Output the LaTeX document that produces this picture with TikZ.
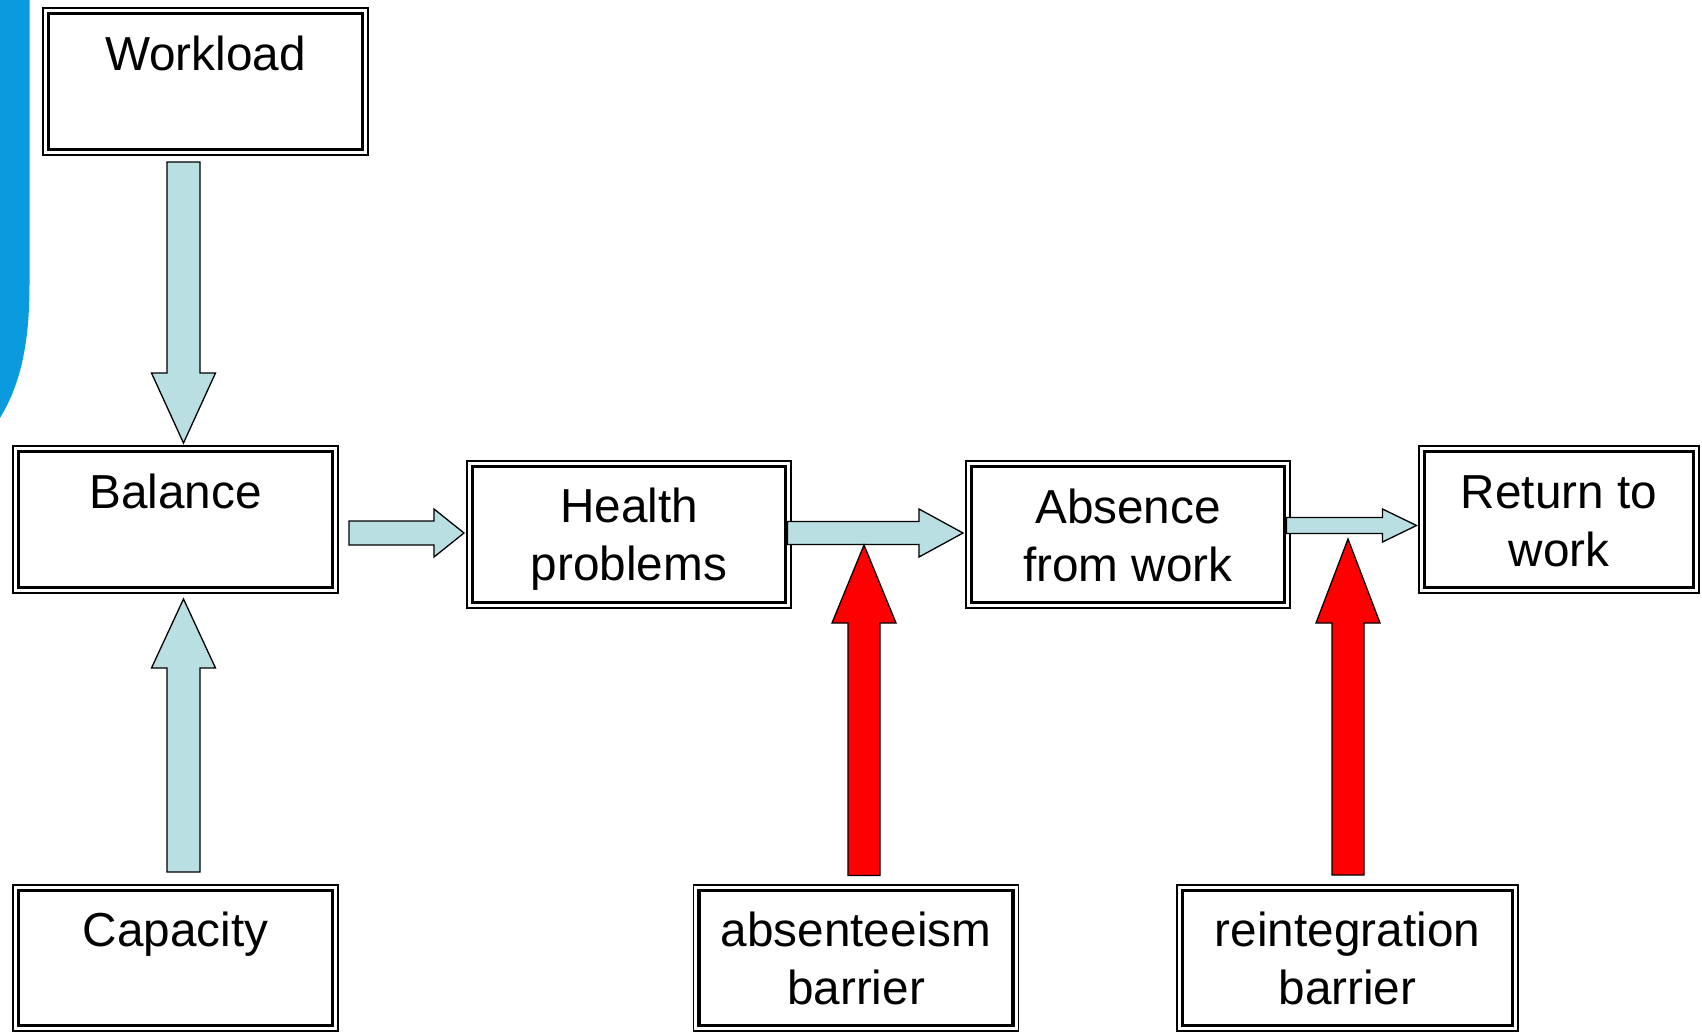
\documentclass[tikz,border=0pt]{standalone}
\usepackage{fontspec}
\setmainfont{Liberation Sans}
\usetikzlibrary{calc}
\definecolor{sidebarblue}{RGB}{9,155,222}
\definecolor{arrowblue}{RGB}{185,223,227}
\definecolor{barrierred}{RGB}{255,0,0}
\newcommand\ls{\rule[-7.5pt]{0pt}{50.5pt}}
% #1 style, #2 start, #3 tip, #4 shaft half width, #5 head half width, #6 head length
\newcommand\barrow[6]{%
  \coordinate (bC) at ($(#3)!#6!(#2)$);
  \draw[#1] ($(#2)!#4!90:(#3)$) -- ($(bC)!#4!90:(#3)$) -- ($(bC)!#5!90:(#3)$) -- (#3)
    -- ($(bC)!#5!-90:(#3)$) -- ($(bC)!#4!-90:(#3)$) -- ($(#2)!#4!-90:(#3)$) -- cycle;
}
\begin{document}
\begin{tikzpicture}[x=1pt,y=-1pt,
  box/.style={draw, line width=1.6pt, inner sep=0pt, align=center,
    font=\fontsize{47.7pt}{58pt}\selectfont,
    path picture={\draw[line width=3.2pt]
      ($(path picture bounding box.north west)+(5.5,5.5)$) rectangle
      ($(path picture bounding box.south east)+(-5.5,-5.5)$);}},
  flowarrow/.style={draw=black, fill=arrowblue, line width=1.3pt, line join=miter},
  barrierarrow/.style={draw=black, fill=barrierred, line width=1.3pt, line join=miter}]
\useasboundingbox (0,0) rectangle (1702,1033);
% sidebar
\fill[sidebarblue] (0,0) -- (29.5,0) -- (29.5,285) .. controls (29.5,345) and (20,385) .. (0,418) -- cycle;
% boxes
\node[box, minimum width=325.4pt, minimum height=147.4pt] (wl) at (205.5,81.5) {\ls Workload\\\ls};
\node[box, minimum width=325.4pt, minimum height=147.4pt] (bal) at (175.5,519.5) {\ls Balance\\\ls};
\node[box, minimum width=325.4pt, minimum height=146.4pt] (cap) at (175.5,958) {\ls Capacity\\\ls};
\node[box, minimum width=324.4pt, minimum height=147.4pt] (hp) at (629,534.5) {\ls Health\\\ls problems};
\node[box, minimum width=324.4pt, minimum height=147.4pt] (ab) at (1128,534.5) {\ls Absence\\\ls from work};
\node[box, minimum width=280.4pt, minimum height=147.4pt] (rt) at (1559,519.5) {\ls Return to\\\ls work};
\node[box, minimum width=324.9pt, minimum height=146.4pt] (abb) at (856,958) {\ls absenteeism\\\ls barrier};
\node[box, minimum width=341.4pt, minimum height=146.4pt] (rb) at (1347.5,958) {\ls reintegration\\\ls barrier};
% connector end points
\coordinate (a1t) at ($(bal.north)+(8,-2)$);
\coordinate (a1s) at ($(a1t |- wl.south)+(0,6)$);
\coordinate (a2s) at ($(cap.north)+(8,-12)$);
\coordinate (a2t) at ($(a2s |- bal.south)+(0,5)$);
\coordinate (a3t) at ($(hp.west)+(-2,-1.5)$);
\coordinate (a3s) at ($(a3t -| bal.east)+(10,0)$);
\coordinate (a4t) at ($(ab.west)+(-2,-1.5)$);
\coordinate (a4s) at ($(a4t -| hp.east)+(-4.5,0)$);
\coordinate (a5t) at ($(rt.west)+(-1.5,6)$);
\coordinate (a5s) at ($(a5t -| ab.east)+(-4.5,0)$);
\coordinate (r1s) at ($(abb.north)+(8,-8.5)$);
\coordinate (r1t) at ($(a4t -| r1s)+(0,12)$);
\coordinate (r2s) at ($(rb.north)+(0.5,-9)$);
\coordinate (r2t) at ($(a5t -| r2s)+(0,13.5)$);
% flow arrows
\barrow{flowarrow}{a1s}{a1t}{16.5pt}{32pt}{70pt}
\barrow{flowarrow}{a2s}{a2t}{16.5pt}{32pt}{69pt}
\barrow{flowarrow}{a3s}{a3t}{12pt}{24pt}{30pt}
\barrow{flowarrow}{a4s}{a4t}{11.5pt}{24pt}{44pt}
\barrow{flowarrow}{a5s}{a5t}{8pt}{16.5pt}{34pt}
% barrier arrows
\barrow{barrierarrow}{r1s}{r1t}{16pt}{32pt}{78pt}
\barrow{barrierarrow}{r2s}{r2t}{16pt}{32pt}{84pt}
\end{tikzpicture}
\end{document}
